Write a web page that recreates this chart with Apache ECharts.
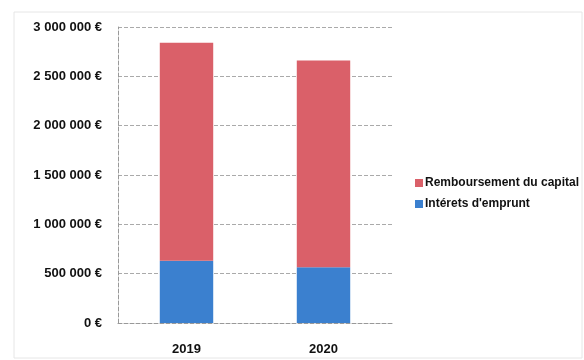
<!DOCTYPE html>
<html><head><meta charset="utf-8">
<script src="https://cdn.jsdelivr.net/npm/echarts@6/dist/echarts.min.js"></script>
<style>html,body{margin:0;padding:0;background:#fff}#c{width:584px;height:360px}</style>
</head><body><div id="c"></div>
<script>
const categories = ["2019", "2020"];
const interets = [630000, 565000];
const capital = [2210000, 2095000];
const seriesNames = ["Remboursement du capital", "Intérets d'emprunt"];
const yTicks = [0, 500000, 1000000, 1500000, 2000000, 2500000, 3000000];

function fmt(v){ return String(v).replace(/\B(?=(\d{3})+(?!\d))/g, " ") + " €"; }

const chart = echarts.init(document.getElementById('c'));
chart.setOption({
  animation: false,
  graphic: [{type:'rect', shape:{x:14, y:12, width:568, height:346}, style:{fill:'none', stroke:'#e6e6e6', lineWidth:1}}],
  grid: {left: 118, right: 192, top: 27, bottom: 37},
  legend: {
    orient: 'vertical', left: 410, top: 172, itemWidth: 8, itemHeight: 8, itemGap: 9,
    icon: 'rect',
    data: [seriesNames[0], seriesNames[1]],
    textStyle: {fontFamily: 'Liberation Sans', fontSize: 12, fontWeight: 'bold', color: '#111', padding:[0,0,0,-3]}
  },
  xAxis: {
    type: 'category', data: categories,
    axisLine: {show: true, lineStyle: {color: '#999', type: 'dashed'}},
    axisTick: {show: false},
    axisLabel: {margin: 20, fontFamily: 'Liberation Sans', fontSize: 13, fontWeight: 'bold', color: '#111'}
  },
  yAxis: {
    type: 'value', min: yTicks[0], max: yTicks[yTicks.length-1], interval: 500000,
    axisLine: {show: true, lineStyle: {color: '#999', type: 'dashed'}},
    axisTick: {show: false},
    splitLine: {lineStyle: {color: '#aaa', type: 'dashed'}},
    axisLabel: {margin: 16, formatter: fmt, fontFamily: 'Liberation Sans', fontSize: 13, fontWeight: 'bold', color: '#111'}
  },
  series: [
    {name: seriesNames[1], type: 'bar', stack: 't', data: interets, barWidth: '39%', itemStyle: {color: '#3b80cf'}},
    {name: seriesNames[0], type: 'bar', stack: 't', data: capital, barWidth: '39%', itemStyle: {color: '#da6069'}}
  ]
});
</script></body></html>
